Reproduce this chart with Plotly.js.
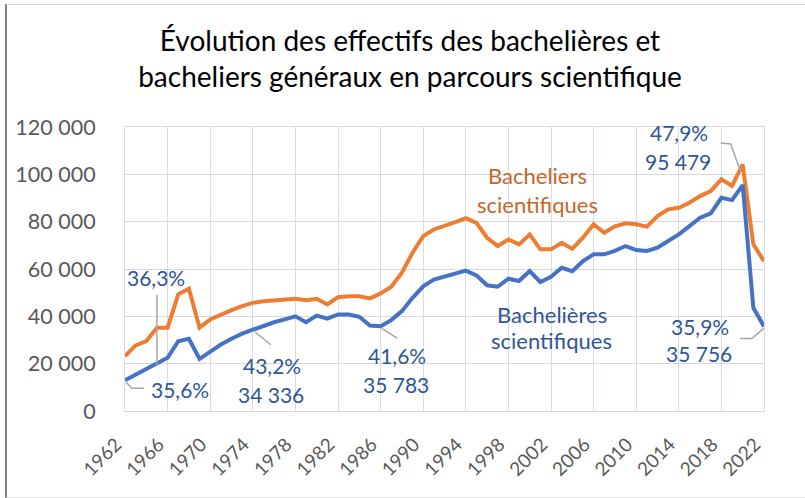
<!DOCTYPE html>
<html>
<head>
<meta charset="utf-8">
<script src="https://cdn.plot.ly/plotly-3.0.1.min.js"></script>
<style>
html,body{margin:0;padding:0;background:#fff;}
#wrap{position:relative;width:805px;height:498px;}
#chart{width:805px;height:498px;}
#frame{position:absolute;left:5px;top:4px;width:820px;height:492px;border-left:2px solid #7F7F7F;border-top:1.5px solid #D9D9D9;border-bottom:1.5px solid #E3E3E3;pointer-events:none;}
</style>
</head>
<body>
<div id="wrap"><div id="chart"></div><div id="frame"></div></div>
<script>
// ---- data ----
const years = [];
for (let y = 1962; y <= 2022; y++) years.push(y);

const bachelieres = [
  13000, 15400, 17500, 20000, 22500, 29500, 30500, 22000, 25300, 28100,
  30500, 32700, 34336, 36100, 37500, 38700, 40000, 37500, 40300, 39000,
  40800, 40800, 39800, 36100, 35783, 38400, 42200, 47800, 52700, 55500,
  56700, 57700, 59300, 57300, 53100, 52500, 55900, 54900, 59100, 54500,
  56700, 60500, 59100, 63300, 66200, 66200, 67700, 69700, 68000, 67600,
  69000, 71800, 74600, 78100, 81700, 83500, 90100, 89100, 95479, 43600,
  35756
];
const bacheliers = [
  23200, 27700, 29500, 35200, 35200, 49300, 51700, 35200, 38700, 40800,
  42600, 44300, 45700, 46400, 46800, 47400, 47400, 46800, 47400, 45000,
  48100, 48500, 48500, 47600, 49700, 52500, 58400, 66900, 73900, 76700,
  78100, 79800, 81500, 79500, 73200, 69700, 72500, 70400, 74600, 68300,
  68300, 71100, 68600, 73200, 78900, 75300, 78000, 79300, 78900, 77900,
  82400, 85200, 85900, 88000, 90800, 92900, 97900, 95100, 104200, 70400,
  63300
];

const xTickVals = [1962,1966,1970,1974,1978,1982,1986,1990,1994,1998,2002,2006,2010,2014,2018,2022];
const xTickText = xTickVals.map(String);
const yTickVals = [0,20000,40000,60000,80000,100000,120000];
const yTickText = ['0','20 000','40 000','60 000','80 000','100 000','120 000'];

const labelYears = [1962, 1965, 1974, 1986, 2020, 2022];
const labelPct   = ['35,6%', '36,3%', '43,2%', '41,6%', '47,9%', '35,9%'];
const labelCount = ['', '', '34 336', '35 783', '95 479', '35 756'];

const seriesNames = ['Bacheliers<br>scientifiques', 'Bachelières<br>scientifiques'];

// ---- styling ----
const FONT = 'Lato, "Open Sans", sans-serif';
const LBL = '#2F5597';
const ORANGE_TXT = '#C5652A';
const pctShift   = [[55,-9],[-1,86],[19,-36],[16,-29],[-64,53],[-64,0]];
const countShift = [null,null,[18,-65],[15,-58],[-65,24],[-65,-27]];
const leaderPaths = [
  'M1,-2 L7,-8 L19,-8',
  'M0,-1 L0,69',
  'M2,-2 L18,-15',
  'M1,-2 L17,-12',
  'M-22,42 L-12,41 L-2,13',
  'M-24,-12 L-12,-12 L0,-2'
];

const traces = [
  {x: years, y: bacheliers, type: 'scatter', mode: 'lines', name: 'Bacheliers scientifiques',
   line: {color: '#ED7D31', width: 4}, hoverinfo: 'skip'},
  {x: years, y: bachelieres, type: 'scatter', mode: 'lines', name: 'Bachelières scientifiques',
   line: {color: '#4472C4', width: 4}, hoverinfo: 'skip'}
];

const annotations = [];
const shapes = [];
labelYears.forEach((yr, i) => {
  const v = bachelieres[years.indexOf(yr)];
  annotations.push({x: yr, y: v, xref: 'x', yref: 'y', text: labelPct[i], showarrow: false,
    xshift: pctShift[i][0], yshift: pctShift[i][1], xanchor: 'center', yanchor: 'middle',
    font: {family: FONT, size: 21, color: LBL}});
  if (labelCount[i]) {
    annotations.push({x: yr, y: v, xref: 'x', yref: 'y', text: labelCount[i], showarrow: false,
      xshift: countShift[i][0], yshift: countShift[i][1], xanchor: 'center', yanchor: 'middle',
      font: {family: FONT, size: 21, color: LBL}});
  }
  shapes.push({type: 'path', xref: 'x', yref: 'y', xsizemode: 'pixel', ysizemode: 'pixel',
    xanchor: yr, yanchor: v, path: leaderPaths[i], line: {color: '#A6A6A6', width: 1.5}, layer: 'above'});
});

// series name labels
const nameLines = [seriesNames[0].split('<br>'), seriesNames[1].split('<br>')];
[[0.645, 0.8275], [0.645, 0.7254]].forEach((p, k) => {
  annotations.push({x: p[0], y: p[1], xref: 'paper', yref: 'paper', text: nameLines[0][k], showarrow: false,
    xanchor: 'center', yanchor: 'middle', font: {family: FONT, size: 22, color: ORANGE_TXT}});
});
[[0.668, 0.3415], [0.668, 0.2465]].forEach((p, k) => {
  annotations.push({x: p[0], y: p[1], xref: 'paper', yref: 'paper', text: nameLines[1][k], showarrow: false,
    xanchor: 'center', yanchor: 'middle', font: {family: FONT, size: 22, color: LBL}});
});

const layout = {
  width: 805, height: 498,
  margin: {l: 125, r: 41, t: 127, b: 87},
  paper_bgcolor: '#ffffff', plot_bgcolor: '#ffffff',
  showlegend: false,
  title: {
    text: 'Évolution des effectifs des bachelières et<br>bacheliers généraux en parcours scientifique',
    font: {family: FONT, size: 28, color: '#000000'},
    xref: 'container', x: 410 / 805, xanchor: 'center',
    yref: 'container', y: 1 - 51 / 498, yanchor: 'top'
  },
  xaxis: {
    range: [1962, 2022], tickvals: xTickVals, ticktext: xTickText, tickangle: -45,
    showgrid: true, gridcolor: '#D6DDEA', gridwidth: 1, zeroline: false,
    showline: true, mirror: true, linecolor: '#D9D9D9', linewidth: 1,
    ticks: 'outside', ticklen: 14, tickcolor: 'rgba(0,0,0,0)', ticklabelshift: -9,
    tickfont: {family: FONT, size: 19, color: '#595959'}, fixedrange: true
  },
  yaxis: {
    range: [0, 120000], tickvals: yTickVals, ticktext: yTickText,
    showgrid: true, gridcolor: '#D9D9D9', gridwidth: 1, zeroline: false,
    showline: true, mirror: true, linecolor: '#D6DDEA', linewidth: 1,
    ticks: 'outside', ticklen: 24, tickcolor: 'rgba(0,0,0,0)',
    tickfont: {family: FONT, size: 21.5, color: '#595959'}, fixedrange: true
  },
  annotations: annotations,
  shapes: shapes
};

Plotly.newPlot('chart', traces, layout, {displayModeBar: false, staticPlot: true});
</script>
</body>
</html>
